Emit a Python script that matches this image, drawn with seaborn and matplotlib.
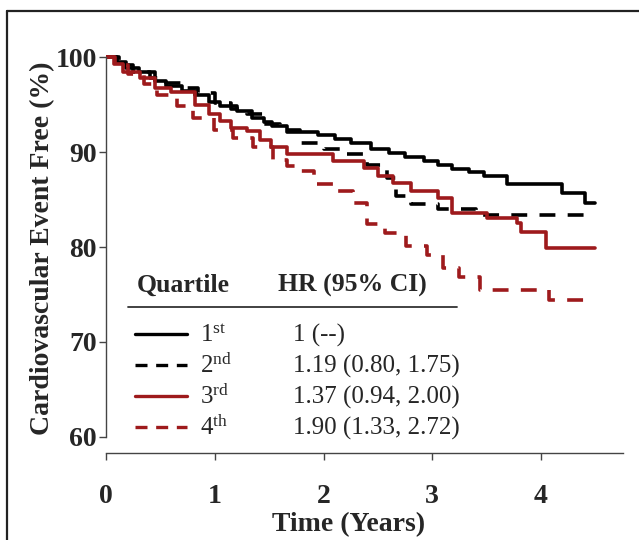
import numpy as np
import pandas as pd
import matplotlib
matplotlib.use("Agg")
import matplotlib.pyplot as plt
import seaborn as sns
from matplotlib.lines import Line2D

# ---------------- data ----------------
q1_t = [0, 0.1, 0.18, 0.3, 0.45, 0.55, 0.7, 0.82, 0.95, 1.05, 1.2, 1.34, 1.45, 1.53, 1.66,
        1.95, 2.11, 2.25, 2.44, 2.6, 2.75, 2.92, 3.05, 3.18, 3.34, 3.48, 3.69, 4.19, 4.40, 4.5]
q1_v = [100, 99.5, 98.9, 98.5, 97.5, 97.0, 96.5, 96.0, 95.3, 94.9, 94.3, 93.6, 93.2, 92.8, 92.1,
        91.8, 91.4, 91.0, 90.3, 89.9, 89.5, 89.1, 88.7, 88.2, 87.9, 87.5, 86.6, 85.7, 84.6, 84.6]

q2_t = [0, 0.12, 0.25, 0.4, 0.55, 0.7, 0.85, 1.0, 1.15, 1.3, 1.45, 1.6, 1.78, 2.0, 2.2,
        2.4, 2.58, 2.67, 2.8, 3.05, 3.4, 4.5]
q2_v = [100, 99.2, 98.5, 97.8, 97.3, 96.8, 96.2, 95.2, 94.6, 94.0, 93.0, 92.3, 91.0, 90.3, 89.8,
        88.7, 87.3, 85.4, 84.5, 84.0, 83.4, 83.4]

q3_t = [0, 0.07, 0.16, 0.31, 0.45, 0.6, 0.82, 0.95, 1.05, 1.15, 1.3, 1.42, 1.52, 1.66, 2.09,
        2.37, 2.5, 2.64, 2.8, 3.05, 3.18, 3.5, 3.78, 3.82, 4.05, 4.5]
q3_v = [100, 99.3, 98.5, 97.8, 96.8, 96.3, 95.0, 94.0, 93.3, 92.5, 92.2, 91.3, 90.5, 89.8, 89.1,
        88.3, 87.5, 86.8, 85.9, 85.2, 83.6, 83.1, 82.5, 81.6, 79.9, 79.9]

q4_t = [0, 0.08, 0.2, 0.35, 0.47, 0.65, 0.8, 0.99, 1.17, 1.35, 1.54, 1.66, 1.78, 1.91, 2.12,
        2.27, 2.4, 2.57, 2.76, 2.95, 3.1, 3.25, 3.44, 4.07, 4.5]
q4_v = [100, 99.2, 98.2, 97.2, 96.0, 94.9, 93.6, 92.3, 91.5, 90.5, 89.2, 88.5, 88.0, 86.7, 85.9,
        84.6, 82.4, 81.5, 80.1, 79.2, 77.8, 76.8, 75.5, 74.4, 74.4]

quartiles = ["1st", "2nd", "3rd", "4th"]
quartile_tex = [r"1$^{\mathrm{st}}$", r"2$^{\mathrm{nd}}$", r"3$^{\mathrm{rd}}$", r"4$^{\mathrm{th}}$"]
hr_text = ["1 (--)", "1.19 (0.80, 1.75)", "1.37 (0.94, 2.00)", "1.90 (1.33, 2.72)"]
x_ticks = [0, 1, 2, 3, 4]
y_ticks = [60, 70, 80, 90, 100]

# ---------------- styling ----------------
RED = "#9e1a1c"
colors = {"1st": "black", "2nd": "black", "3rd": RED, "4th": RED}
dash_map = {"1st": "", "2nd": (4.4, 3.4), "3rd": "", "4th": (4.4, 3.4)}

sns.set_style("ticks")
plt.rcParams["font.family"] = ["Liberation Serif", "DejaVu Serif"]
plt.rcParams["mathtext.fontset"] = "custom"
plt.rcParams["mathtext.rm"] = "Liberation Serif"
plt.rcParams["mathtext.it"] = "Liberation Serif:italic"
plt.rcParams["mathtext.bf"] = "Liberation Serif:bold"

frames = []
for q, t, v in zip(quartiles, [q1_t, q2_t, q3_t, q4_t], [q1_v, q2_v, q3_v, q4_v]):
    frames.append(pd.DataFrame({"time": t, "free": v, "quartile": q}))
df = pd.concat(frames, ignore_index=True)

W, H = 639, 540
fig = plt.figure(figsize=(W / 100, H / 100), dpi=100)

def fx(px):
    return px / W

def fy(py):
    return 1 - py / H

ax_left, ax_right, ax_top, ax_bottom = 106, 623, 51.6, 453
ax = fig.add_axes([fx(ax_left), fy(ax_bottom), (ax_right - ax_left) / W, (ax_bottom - ax_top) / H])

sns.lineplot(data=df, x="time", y="free", hue="quartile", style="quartile",
             palette=colors, dashes=dash_map, hue_order=quartiles, style_order=quartiles,
             estimator=None, sort=False, drawstyle="steps-post", linewidth=2.6,
             legend=False, ax=ax)

ax.set_xlim(0, 4.754)
ax.set_ylim(58.3, 100.6)
ax.set_xticks(x_ticks)
ax.set_yticks(y_ticks)
ax.set_xticklabels([str(v) for v in x_ticks])
ax.set_yticklabels([str(v) for v in y_ticks])
for s in ["top", "right"]:
    ax.spines[s].set_visible(False)
ax.spines["left"].set_bounds(60, 100)
for s in ["left", "bottom"]:
    ax.spines[s].set_color("#444444")
    ax.spines[s].set_linewidth(1.0)
ax.tick_params(axis="both", direction="out", length=5, width=1.0, color="#444444")
ax.tick_params(axis="x", pad=17, labelsize=20)
ax.tick_params(axis="y", pad=1.5, labelsize=20)
for lab in ax.get_xticklabels() + ax.get_yticklabels():
    lab.set_fontweight("bold")

ax.set_xlabel("Time (Years)", fontsize=20, fontweight="bold")
ax.set_ylabel("Cardiovascular Event Free (%)", fontsize=20, fontweight="bold")
ax.xaxis.set_label_coords((349 - ax_left) / (ax_right - ax_left), (ax_bottom - 512) / (ax_bottom - ax_top))
ax.yaxis.set_label_coords((55 - ax_left) / (ax_right - ax_left), (ax_bottom - 248) / (ax_bottom - ax_top))

# ---------------- legend table ----------------
fig.text(fx(137), fy(292), "Quartile", fontsize=18.5, fontweight="bold", va="baseline", ha="left")
fig.text(fx(278), fy(292), "HR (95% CI)", fontsize=18.5, fontweight="bold", va="baseline", ha="left")
fig.add_artist(Line2D([fx(128), fx(457)], [fy(307), fy(307)], color="#333333", lw=1.3,
                      transform=fig.transFigure))
row_base = [342, 373, 404, 435]
for q, qt, hr, yb in zip(quartiles, quartile_tex, hr_text, row_base):
    ls = "-" if dash_map[q] == "" else (0, (3.6, 2.6))
    fig.add_artist(Line2D([fx(135), fx(187)], [fy(yb - 8), fy(yb - 8)], color=colors[q], lw=2.4,
                          linestyle=ls, transform=fig.transFigure))
    fig.text(fx(200), fy(yb), qt, fontsize=18, va="baseline", ha="left")
    fig.text(fx(293), fy(yb), hr, fontsize=18, va="baseline", ha="left")

# ---------------- outer frame ----------------
fig.add_artist(Line2D([fx(7.3), fx(7.3)], [fy(11), fy(545)], color="#222222", lw=1.6,
                      transform=fig.transFigure))
fig.add_artist(Line2D([fx(7.3), fx(645)], [fy(11), fy(11)], color="#222222", lw=1.6,
                      transform=fig.transFigure))

fig.savefig("out.png", dpi=100)
